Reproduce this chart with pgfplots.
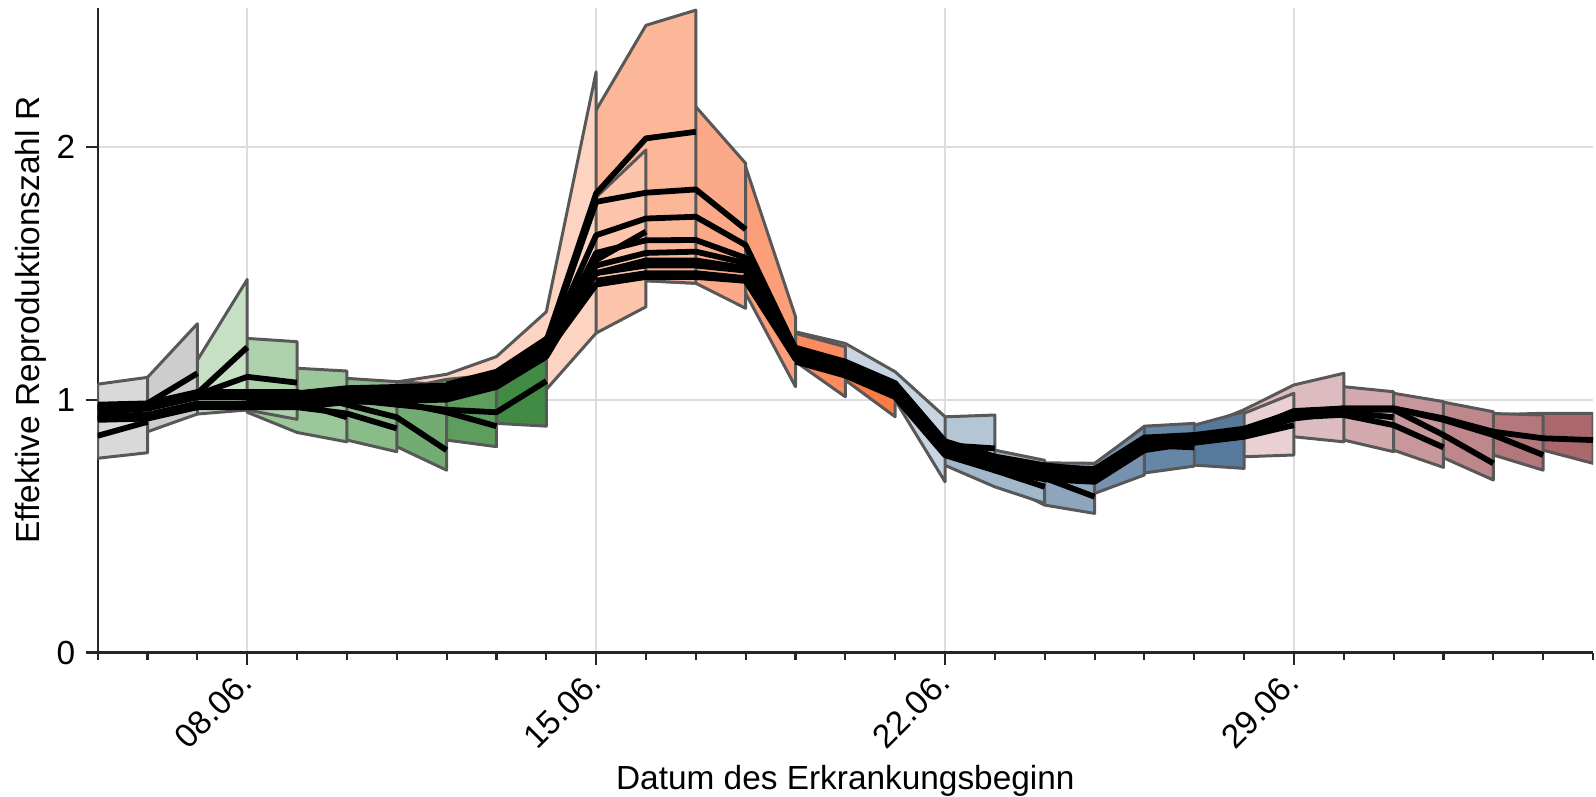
\documentclass[border=0pt]{standalone}
\usepackage{pgfplots}
\usepackage{fontspec}
\setmainfont{Liberation Sans}
\pgfplotsset{compat=1.18}

% band colours: one per nowcast day
\definecolor{g1}{HTML}{D9D9D9}
\definecolor{g2}{HTML}{CDCDCD}
\definecolor{gr3}{HTML}{C6E0C4}
\definecolor{gr4}{HTML}{ADD1AB}
\definecolor{gr5}{HTML}{9CC79B}
\definecolor{gr6}{HTML}{89BC88}
\definecolor{gr7}{HTML}{72AC72}
\definecolor{gr8}{HTML}{5D9E5E}
\definecolor{gr9}{HTML}{418B45}
\definecolor{or10}{HTML}{FDD4C1}
\definecolor{or11}{HTML}{FDC5AB}
\definecolor{or12}{HTML}{FCB698}
\definecolor{or13}{HTML}{FCA98A}
\definecolor{or14}{HTML}{FC9E7A}
\definecolor{or15}{HTML}{FC8B5E}
\definecolor{or16}{HTML}{FB7B45}
\definecolor{bl17}{HTML}{C8D5E0}
\definecolor{bl18}{HTML}{B4C5D4}
\definecolor{bl19}{HTML}{A2B7CA}
\definecolor{bl20}{HTML}{8EA6BD}
\definecolor{bl21}{HTML}{7792AE}
\definecolor{bl22}{HTML}{6686A5}
\definecolor{bl23}{HTML}{577A9C}
\definecolor{rd24}{HTML}{E8D0D3}
\definecolor{rd25}{HTML}{DCBCC0}
\definecolor{rd26}{HTML}{D3ABAF}
\definecolor{rd27}{HTML}{C8979B}
\definecolor{rd28}{HTML}{BE878B}
\definecolor{rd29}{HTML}{B4777B}
\definecolor{rd30}{HTML}{AB686C}
\definecolor{edge}{HTML}{585858}
\definecolor{gridc}{HTML}{DDDDDD}

\begin{document}
\begin{tikzpicture}
\useasboundingbox (-0.977,-1.435) rectangle (14.983,6.525);
\begin{axis}[
    at={(0,0)}, anchor=south west,
    scale only axis,
    width=14.953cm, height=6.444cm,
    xmin=0, xmax=30, ymin=0, ymax=2.548,
    axis x line*=bottom, axis y line*=left,
    axis line style={line width=0.6pt, black!85},
    tick style={line width=0.6pt, black!85},
    tick align=outside,
    major tick length=0.12cm, minor tick length=0.07cm,
    xtick={3,10,17,24},
    xticklabels={08.06.,15.06.,22.06.,29.06.},
    minor xtick={0,...,30},
    ytick={0,1,2},
    grid=major,
    major grid style={gridc, line width=0.6pt},
    /pgf/number format/assume math mode=true,
    tick label style={font=\fontsize{9.5}{11}\selectfont},
    yticklabel style={xshift=0.02cm},
    xticklabel style={xshift=0.072cm, yshift=-0.195cm, rotate=45, anchor=base east, inner sep=0pt},
    label style={font=\fontsize{9.5}{11}\selectfont},
    xlabel={Datum des Erkrankungsbeginn},
    ylabel={Effektive Reproduktionszahl R},
    xlabel style={at={(axis description cs:0.5,0)}, anchor=base, yshift=-1.365cm},
    ylabel style={at={(axis description cs:0,0.516)}, anchor=base, yshift=0.577cm},
    band/.style={draw=edge, line width=0.85pt, line join=round},
    ln/.style={black, line width=1.65pt, line join=round},
]

% ---- uncertainty bands, latest nowcast first, earlier ones on top ----
\addplot[band, fill=rd30] coordinates {(27,0.96) (28,0.94) (29,0.946) (30,0.946) (30,0.748) (29,0.80) (28,0.83) (27,0.86)} -- cycle;
\addplot[band, fill=rd29] coordinates {(26,0.98) (27,0.96) (28,0.945) (29,0.939) (29,0.721) (28,0.781) (27,0.83) (26,0.88)} -- cycle;
\addplot[band, fill=rd28] coordinates {(25,0.99) (26,1.0) (27,0.99) (28,0.952) (28,0.682) (27,0.77) (26,0.85) (25,0.9)} -- cycle;
\addplot[band, fill=rd27] coordinates {(24,0.98) (25,1.02) (26,1.025) (27,0.992) (27,0.732) (26,0.80) (25,0.88) (24,0.88)} -- cycle;
\addplot[band, fill=rd26] coordinates {(23,0.93) (24,1.02) (25,1.051) (26,1.031) (26,0.794) (25,0.84) (24,0.87) (23,0.83)} -- cycle;
\addplot[band, fill=rd25] coordinates {(22,0.88) (23,0.96) (24,1.058) (25,1.104) (25,0.833) (24,0.853) (23,0.82) (22,0.80)} -- cycle;
\addplot[band, fill=rd24] coordinates {(21,0.87) (22,0.88) (23,0.946) (24,1.025) (24,0.781) (23,0.774) (22,0.78) (21,0.78)} -- cycle;
\addplot[band, fill=bl23] coordinates {(20,0.73) (21,0.88) (22,0.899) (23,0.952) (23,0.728) (22,0.741) (21,0.76) (20,0.67)} -- cycle;
\addplot[band, fill=bl22] coordinates {(19,0.74) (20,0.74) (21,0.895) (22,0.906) (22,0.737) (21,0.71) (20,0.65) (19,0.67)} -- cycle;
\addplot[band, fill=bl21] coordinates {(18,0.78) (19,0.745) (20,0.748) (21,0.893) (21,0.702) (20,0.629) (19,0.64) (18,0.70)} -- cycle;
\addplot[band, fill=bl20] coordinates {(17,0.83) (18,0.78) (19,0.75) (20,0.748) (20,0.55) (19,0.583) (18,0.68) (17,0.76)} -- cycle;
\addplot[band, fill=bl19] coordinates {(16,1.06) (17,0.84) (18,0.80) (19,0.76) (19,0.59) (18,0.655) (17,0.74) (16,1.0)} -- cycle;
\addplot[band, fill=bl18] coordinates {(15,1.2) (16,1.09) (17,0.932) (18,0.939) (18,0.774) (17,0.78) (16,1.0) (15,1.1)} -- cycle;
\addplot[band, fill=bl17] coordinates {(14,1.268) (15,1.222) (16,1.11) (17,0.932) (17,0.675) (16,0.998) (15,1.09) (14,1.16)} -- cycle;
\addplot[band, fill=or16] coordinates {(14,1.22) (15,1.117) (16,1.05) (16,0.932) (15,1.077) (14,1.15)} -- cycle;
\addplot[band, fill=or15] coordinates {(13,1.65) (14,1.262) (15,1.209) (15,1.011) (14,1.15) (13,1.45)} -- cycle;
\addplot[band, fill=or14] coordinates {(12,1.6) (13,1.92) (14,1.328) (14,1.051) (13,1.42) (12,1.47)} -- cycle;
\addplot[band, fill=or13] coordinates {(11,1.6) (12,2.158) (13,1.934) (13,1.361) (12,1.46) (11,1.47)} -- cycle;
\addplot[band, fill=or12] coordinates {(9,1.28) (10,2.145) (11,2.48) (12,2.54) (12,1.46) (11,1.47) (10,1.45) (9,1.15)} -- cycle;
\addplot[band, fill=or11] coordinates {(8,1.12) (9,1.3) (10,1.8) (11,1.987) (11,1.367) (10,1.263) (9,1.1) (8,1.02)} -- cycle;
\addplot[band, fill=or10] coordinates {(5,1.06) (6,1.07) (7,1.10) (8,1.17) (9,1.347) (10,2.296) (10,1.263) (9,1.04) (8,1.0) (7,0.99) (6,0.99) (5,0.99)} -- cycle;
\addplot[band, fill=gr9] coordinates {(7,1.05) (8,1.10) (9,1.156) (9,0.895) (8,0.906) (7,0.93)} -- cycle;
\addplot[band, fill=gr8] coordinates {(6,1.04) (7,1.08) (8,1.10) (8,0.814) (7,0.84) (6,0.9)} -- cycle;
\addplot[band, fill=gr7] coordinates {(5,1.05) (6,1.07) (7,1.06) (7,0.721) (6,0.814) (5,0.88)} -- cycle;
\addplot[band, fill=gr6] coordinates {(4,1.05) (5,1.084) (6,1.071) (6,0.794) (5,0.84) (4,0.9)} -- cycle;
\addplot[band, fill=gr5] coordinates {(3,1.05) (4,1.124) (5,1.113) (5,0.833) (4,0.87) (3,0.95)} -- cycle;
\addplot[band, fill=gr4] coordinates {(2,1.03) (3,1.242) (4,1.229) (4,0.922) (3,0.959) (2,0.96)} -- cycle;
\addplot[band, fill=gr3] coordinates {(1,1.0) (2,1.156) (3,1.475) (3,0.959) (2,0.943) (1,0.93)} -- cycle;
\addplot[band, fill=g2] coordinates {(0,0.99) (1,1.088) (2,1.30) (2,0.943) (1,0.873) (0,0.9)} -- cycle;
\addplot[band, fill=g1] coordinates {(0,1.061) (1,1.088) (1,0.79) (0,0.768)} -- cycle;

% ---- point estimates of each nowcast ----
\addplot[ln] coordinates {(0,0.857) (1,0.912)};
\addplot[ln] coordinates {(0,0.93) (1,0.985) (2,1.104)};
\addplot[ln] coordinates {(0,0.95) (1,0.965) (2,1.025) (3,1.207)};
\addplot[ln] coordinates {(0,0.97) (1,0.975) (2,1.02) (3,1.09) (4,1.067)};
\addplot[ln] coordinates {(0,0.925) (1,0.93) (2,0.975) (3,0.985) (4,0.99) (5,0.93)};
\addplot[ln] coordinates {(0,0.96) (1,0.965) (2,1.01) (3,1.01) (4,0.97) (5,0.945) (6,0.886)};
\addplot[ln] coordinates {(0,0.98) (1,0.985) (2,1.03) (3,1.03) (4,1.03) (5,0.98) (6,0.93) (7,0.80)};
\addplot[ln] coordinates {(0,0.935) (1,0.94) (2,0.985) (3,0.985) (4,0.985) (5,1.005) (6,0.99) (7,0.95) (8,0.895)};
\addplot[ln] coordinates {(0,0.97) (1,0.975) (2,1.02) (3,1.02) (4,1.02) (5,1.0) (6,0.98) (7,0.96) (8,0.95) (9,1.073)};
\addplot[ln] coordinates {(0,0.92) (1,0.925) (2,0.97) (3,0.97) (4,0.97) (5,0.99) (6,0.995) (7,1.0) (8,1.05) (9,1.17) (10,1.50)};
\addplot[ln] coordinates {(1,0.965) (2,1.01) (3,1.01) (4,1.01) (5,1.03) (6,1.035) (7,1.04) (8,1.09) (9,1.2) (10,1.552) (11,1.664)};
\addplot[ln] coordinates {(2,1.025) (3,1.025) (4,1.025) (5,1.045) (6,1.05) (7,1.055) (8,1.105) (9,1.23) (10,1.815) (11,2.033) (12,2.059)};
\addplot[ln] coordinates {(3,0.99) (4,0.99) (5,1.01) (6,1.015) (7,1.02) (8,1.07) (9,1.22) (10,1.782) (11,1.818) (12,1.831) (13,1.673)};
\addplot[ln] coordinates {(4,1.015) (5,1.035) (6,1.04) (7,1.045) (8,1.095) (9,1.21) (10,1.65) (11,1.716) (12,1.723) (13,1.611) (14,1.2)};
\addplot[ln] coordinates {(5,1.0) (6,1.005) (7,1.01) (8,1.06) (9,1.2) (10,1.58) (11,1.63) (12,1.631) (13,1.56) (14,1.19) (15,1.13)};
\addplot[ln] coordinates {(6,1.03) (7,1.035) (8,1.085) (9,1.2) (10,1.53) (11,1.58) (12,1.585) (13,1.54) (14,1.185) (15,1.13) (16,1.03)};
\addplot[ln] coordinates {(7,1.06) (8,1.11) (9,1.24) (10,1.5) (11,1.55) (12,1.55) (13,1.52) (14,1.2) (15,1.14) (16,1.05) (17,0.80)};
\addplot[ln] coordinates {(8,1.055) (9,1.185) (10,1.455) (11,1.485) (12,1.485) (13,1.47) (14,1.165) (15,1.11) (16,1.03) (17,0.82) (18,0.807)};
\addplot[ln] coordinates {(9,1.23) (10,1.5) (11,1.53) (12,1.53) (13,1.51) (14,1.2) (15,1.145) (16,1.06) (17,0.83) (18,0.72) (19,0.655)};
\addplot[ln] coordinates {(10,1.47) (11,1.5) (12,1.5) (13,1.48) (14,1.17) (15,1.115) (16,1.03) (17,0.80) (18,0.74) (19,0.69) (20,0.616)};
\addplot[ln] coordinates {(11,1.535) (12,1.535) (13,1.515) (14,1.205) (15,1.15) (16,1.065) (17,0.835) (18,0.775) (19,0.74) (20,0.72) (21,0.80)};
\addplot[ln] coordinates {(12,1.49) (13,1.47) (14,1.16) (15,1.105) (16,1.02) (17,0.79) (18,0.73) (19,0.695) (20,0.69) (21,0.82) (22,0.811)};
\addplot[ln] coordinates {(13,1.5) (14,1.19) (15,1.135) (16,1.05) (17,0.82) (18,0.76) (19,0.725) (20,0.715) (21,0.84) (22,0.85) (23,0.86)};
\addplot[ln] coordinates {(14,1.15) (15,1.095) (16,1.01) (17,0.78) (18,0.72) (19,0.685) (20,0.675) (21,0.80) (22,0.83) (23,0.853) (24,0.899)};
\addplot[ln] coordinates {(15,1.14) (16,1.055) (17,0.825) (18,0.765) (19,0.73) (20,0.72) (21,0.845) (22,0.855) (23,0.88) (24,0.93) (25,0.94)};
\addplot[ln] coordinates {(16,1.04) (17,0.81) (18,0.75) (19,0.715) (20,0.705) (21,0.83) (22,0.84) (23,0.865) (24,0.925) (25,0.95) (26,0.93)};
\addplot[ln] coordinates {(17,0.80) (18,0.74) (19,0.705) (20,0.695) (21,0.82) (22,0.83) (23,0.855) (24,0.939) (25,0.939) (26,0.899) (27,0.811)};
\addplot[ln] coordinates {(18,0.77) (19,0.735) (20,0.725) (21,0.85) (22,0.86) (23,0.885) (24,0.95) (25,0.96) (26,0.96) (27,0.86) (28,0.748)};
\addplot[ln] coordinates {(19,0.725) (20,0.715) (21,0.84) (22,0.85) (23,0.875) (24,0.95) (25,0.965) (26,0.965) (27,0.92) (28,0.86) (29,0.781)};
\addplot[ln] coordinates {(20,0.715) (21,0.84) (22,0.85) (23,0.875) (24,0.955) (25,0.965) (26,0.965) (27,0.926) (28,0.873) (29,0.847) (30,0.840)};

\end{axis}
\end{tikzpicture}
\end{document}
